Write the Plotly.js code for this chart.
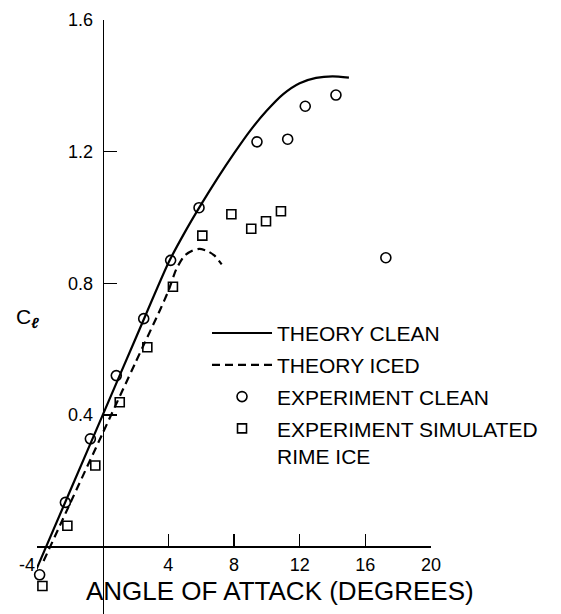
<!DOCTYPE html>
<html>
<head>
<meta charset="utf-8">
<script src="https://cdn.plot.ly/plotly-3.0.1.min.js"></script>
<style>html,body{margin:0;padding:0;background:#fff;}#chart{width:561px;height:614px;}</style>
</head>
<body>
<div id="chart"></div>
<script>
// Theory curves (angle of attack in degrees, lift coefficient)
var theoryCleanAlpha = [-4.05, -2, 0, 2, 4, 5, 6, 7, 8, 9, 10, 11, 12, 13, 14, 15];
var theoryCleanCl    = [-0.07, 0.168, 0.40, 0.632, 0.862, 0.955, 1.04, 1.12, 1.195, 1.265, 1.325, 1.375, 1.408, 1.424, 1.429, 1.425];

var theoryIcedAlpha = [-3.6, -2, 0, 2, 3.5, 4.0, 4.5, 5.0, 5.5, 5.9, 6.4, 6.8, 7.25];
var theoryIcedCl    = [-0.043, 0.13, 0.345, 0.56, 0.72, 0.777, 0.845, 0.885, 0.90, 0.905, 0.898, 0.885, 0.858];

// Experiments
var expCleanAlpha = [-3.84, -2.27, -0.75, 0.83, 2.5, 4.14, 5.87, 9.4, 11.27, 12.34, 14.21, 17.25];
var expCleanCl    = [-0.085, 0.135, 0.328, 0.52, 0.693, 0.87, 1.03, 1.23, 1.238, 1.338, 1.372, 0.878];

var expIceAlpha = [-3.67, -2.15, -0.45, 1.04, 2.72, 4.28, 6.07, 7.84, 9.05, 9.95, 10.86];
var expIceCl    = [-0.119, 0.064, 0.247, 0.439, 0.606, 0.79, 0.945, 1.01, 0.966, 0.989, 1.019];

// Axis ticks
var xTickVals = [-4, 4, 8, 12, 16, 20];
var xTickText = ['-4\u00a0\u00a0\u00a0\u00a0', '4', '8', '12', '16', '20'];
var yTickVals = [0.4, 0.8, 1.2, 1.6];
var yTickText = ['0.4', '0.8', '1.2', '1.6'];

var seriesNames = ['THEORY CLEAN', 'THEORY ICED', 'EXPERIMENT CLEAN', 'EXPERIMENT SIMULATED<br>RIME ICE'];
var xTitle = 'ANGLE OF ATTACK (DEGREES)';
var yTitle = 'C<sub><b><i>ℓ</i></b></sub>';

var FONT = 'Liberation Sans, Arial, sans-serif';
var xRange = [-4, 20];
var yRange = [-0.204, 1.6];

var traces = [
  {x: theoryCleanAlpha, y: theoryCleanCl, mode: 'lines', name: seriesNames[0], legendgroup: 'a',
   line: {color: '#000', width: 2.2, shape: 'spline', smoothing: 0.6}},
  {x: theoryIcedAlpha, y: theoryIcedCl, mode: 'lines', name: seriesNames[1], legendgroup: 'b',
   line: {color: '#000', width: 2.2, dash: '8px,5px', shape: 'spline', smoothing: 0.6}},
  {x: expCleanAlpha, y: expCleanCl, mode: 'markers', name: seriesNames[2], legendgroup: 'c', cliponaxis: false,
   marker: {symbol: 'circle-open', size: 10, color: '#000', line: {width: 1.6, color: '#000'}}},
  {x: expIceAlpha, y: expIceCl, mode: 'markers', name: seriesNames[3], legendgroup: 'd', cliponaxis: false,
   marker: {symbol: 'square-open', size: 9, color: '#000', line: {width: 1.6, color: '#000'}}}
];

var layout = {
  width: 561, height: 614,
  margin: {l: 37, r: 130, t: 20, b: 0},
  paper_bgcolor: '#fff', plot_bgcolor: 'rgba(0,0,0,0)',
  font: {family: FONT, color: '#000'},
  showlegend: true,
  hovermode: false,
  legend: {
    x: 0.4315, y: 0.507, xanchor: 'left', yanchor: 'top',
    bgcolor: 'rgba(0,0,0,0)', font: {size: 21, family: FONT, color: '#000'},
    itemwidth: 60, traceorder: 'grouped', tracegroupgap: 1.5, valign: 'top'
  },
  xaxis: {
    range: xRange, anchor: 'free', position: (0 - yRange[0]) / (yRange[1] - yRange[0]),
    showline: true, linecolor: '#000', linewidth: 2,
    ticks: 'inside', ticklen: 12, tickwidth: 1.5, tickcolor: '#000',
    tickmode: 'array', tickvals: xTickVals, ticktext: xTickText,
    tickfont: {size: 18, family: FONT, color: '#000'},
    ticklabelstandoff: 2,
    showgrid: false, zeroline: false
  },
  yaxis: {
    range: yRange, anchor: 'free', position: (0 - xRange[0]) / (xRange[1] - xRange[0]),
    showline: true, linecolor: '#000', linewidth: 1.6,
    ticks: 'inside', ticklen: 13, tickwidth: 1.5, tickcolor: '#000',
    tickmode: 'array', tickvals: yTickVals, ticktext: yTickText,
    tickfont: {size: 18, family: FONT, color: '#000'},
    ticklabelstandoff: 6,
    showgrid: false, zeroline: false
  },
  annotations: [
    {xref: 'paper', yref: 'paper', x: -0.025, y: 0.498, xanchor: 'center', yanchor: 'middle',
     text: yTitle, showarrow: false, font: {size: 21, family: FONT, color: '#000'}},
    {xref: 'paper', yref: 'paper', x: 0.617, y: 0.0387, xanchor: 'center', yanchor: 'middle',
     text: xTitle, showarrow: false, font: {size: 26, family: FONT, color: '#000'}}
  ]
};

Plotly.newPlot('chart', traces, layout, {displayModeBar: false, staticPlot: true});
</script>
</body>
</html>
